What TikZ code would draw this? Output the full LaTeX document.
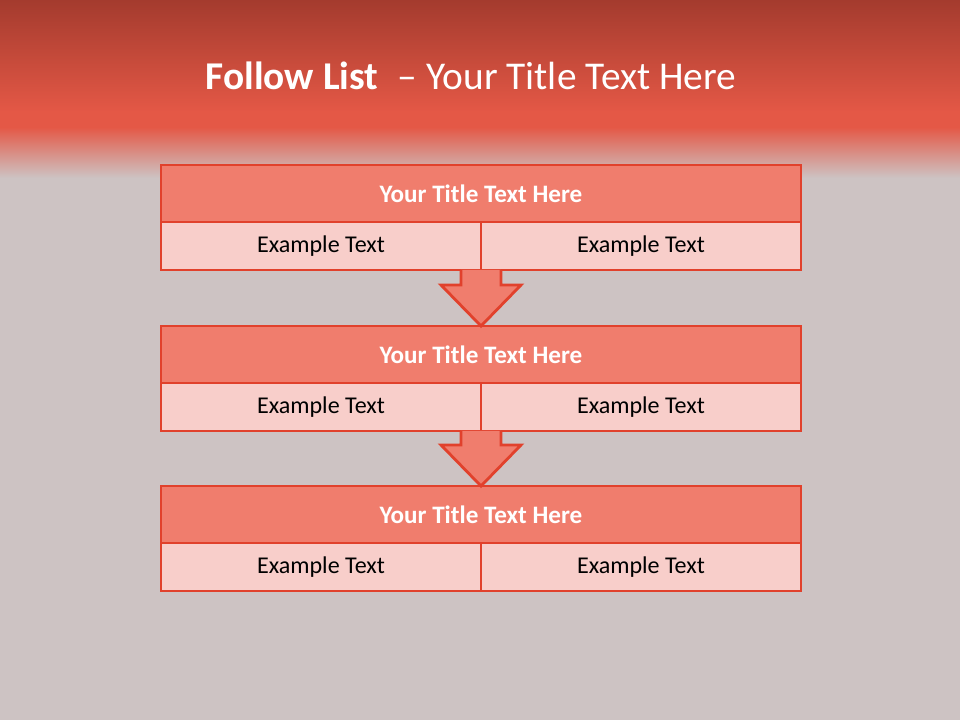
\documentclass[tikz,border=0pt]{standalone}
\usepackage{fontspec}
\setmainfont{Carlito}
\usetikzlibrary{positioning,calc}
\definecolor{hdrtop}{HTML}{A43B2E}
\definecolor{hdrred}{HTML}{E45846}
\definecolor{bggrey}{HTML}{CDC3C3}
\definecolor{edgered}{HTML}{E1412C}
\definecolor{titlefill}{HTML}{F07D6D}
\definecolor{cellfill}{HTML}{F8CECA}

\begin{document}
\begin{tikzpicture}[x=0.02cm,y=-0.02cm,
  head/.style={draw=edgered,fill=titlefill,line width=1.6pt,minimum width=12.8cm,minimum height=1.14cm,
    inner sep=0pt,outer sep=0pt,text=white,font=\fontsize{14.3}{16}\selectfont\bfseries},
  cell/.style={draw=edgered,fill=cellfill,line width=1.6pt,minimum width=6.4cm,minimum height=0.96cm,
    inner sep=0pt,outer sep=0pt,anchor=north west,font=\fontsize{13.7}{16}\selectfont},
  downarrow/.style={draw=edgered,fill=titlefill,line width=1.6pt,line join=miter}]
% background and header band
\fill[bggrey] (0,0) rectangle (960,720);
\shade[top color=hdrtop,bottom color=hdrred] (0,0) rectangle (960,112);
\fill[hdrred] (0,111) rectangle (960,128);
\shade[top color=hdrred,bottom color=bggrey] (0,127) rectangle (960,178);
\useasboundingbox (0,0) rectangle (960,720);
\node (title) at (471,76) [text=white,font=\fontsize{22.4}{26}\selectfont]
  {\textbf{Follow List}\hspace{0.5em}– Your Title Text Here};
% first block
\node (t1) at (481,193.5) [head] {Your Title Text Here};
\node (l1) at (t1.south west) [cell] {Example Text};
\node (r1) at (l1.north east) [cell] {Example Text};
% second block
\node (t2) at (481,354.5) [head] {Your Title Text Here};
\node (l2) at (t2.south west) [cell] {Example Text};
\node (r2) at (l2.north east) [cell] {Example Text};
% third block
\node (t3) at (481,514.5) [head] {Your Title Text Here};
\node (l3) at (t3.south west) [cell] {Example Text};
\node (r3) at (l3.north east) [cell] {Example Text};
% arrows between blocks
\draw[downarrow] ($(l1.south east)+(-20,0)$) -- ($(t2.north)+(-20,-41)$) -- ($(t2.north)+(-40,-41)$)
  -- (t2.north) -- ($(t2.north)+(40,-41)$) -- ($(t2.north)+(20,-41)$) -- ($(l1.south east)+(20,0)$);
\draw[downarrow] ($(l2.south east)+(-20,0)$) -- ($(t3.north)+(-20,-41)$) -- ($(t3.north)+(-40,-41)$)
  -- (t3.north) -- ($(t3.north)+(40,-41)$) -- ($(t3.north)+(20,-41)$) -- ($(l2.south east)+(20,0)$);
\end{tikzpicture}
\end{document}
